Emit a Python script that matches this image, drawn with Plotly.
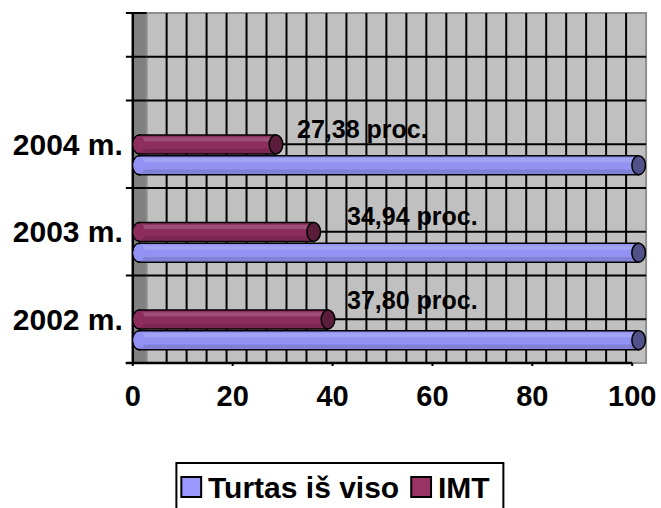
import plotly.graph_objects as go

# ---------------- data ----------------
categories = ["2002 m.", "2003 m.", "2004 m."]
series_names = ["Turtas iš viso", "IMT"]
turtas = [100, 100, 100]
imt = [37.80, 34.94, 27.38]
x_ticks = [0, 20, 40, 60, 80, 100]

# value label placement (axis units) – layout only
label_x = [42.5, 42.5, 32.5]
label_dy = [0.217, 0.18, 0.169]

# ---------------- geometry / style ----------------
W, H = 661, 508
PX = 5.04            # pixels per x unit
X0_PX = 134          # pixel of value 0 on the front axis
CAT_PX = 87.5        # pixels per category
TOP_PX, BOT_PX = 13, 363
DOM_L, DOM_R = 125, 656
PAD = 3
DEPTH_PX = 14        # 3D depth of the floor/wall
SHIFT = 6.5 / PX     # bars sit half way in depth
WALL_X0 = DEPTH_PX / PX
WALL_X1 = WALL_X0 + 100
Y_LO, Y_HI = -0.5, 3.5
BAR_W = 0.217
OFF_T, OFF_I = -0.348, -0.111

FONT = "Liberation Sans, Arial, sans-serif"
BLUE, BLUE_CAP = "#9292F2", "#52528A"
MAROON, MAROON_CAP = "#8C2D5D", "#5A1E3C"
SW_BLUE, SW_MAROON = "#9999FF", "#993366"

xr = [(DOM_L - X0_PX) / PX, (DOM_R - X0_PX) / PX]
xr2 = [xr[0] - SHIFT, xr[1] - SHIFT]
yr = [Y_LO - PAD / CAT_PX, Y_HI + PAD / CAT_PX]
ypos = list(range(len(categories)))

fig = go.Figure()
fig.add_trace(go.Bar(
    y=ypos, x=turtas, orientation="h", name=series_names[0],
    xaxis="x2", yaxis="y", width=BAR_W, offset=OFF_T,
    marker=dict(color=BLUE, line=dict(color="black", width=1.5)),
    showlegend=False, hoverinfo="x+name"))
fig.add_trace(go.Bar(
    y=ypos, x=imt, orientation="h", name=series_names[1],
    xaxis="x2", yaxis="y", width=BAR_W, offset=OFF_I,
    marker=dict(color=MAROON, line=dict(color="black", width=1.5)),
    showlegend=False, hoverinfo="x+name"))

shapes = []
# left side wall (dark strip) and back wall
shapes.append(dict(type="rect", xref="x", yref="y", x0=0, x1=WALL_X0, y0=Y_LO, y1=Y_HI,
                   fillcolor="#808080", line=dict(width=0), layer="below"))
shapes.append(dict(type="rect", xref="x", yref="y", x0=WALL_X0, x1=WALL_X1, y0=Y_LO, y1=Y_HI,
                   fillcolor="#C0C0C0", line=dict(color="#8E8E8E", width=2), layer="below"))
# back-wall gridlines
for k in range(1, 25):
    gx = WALL_X0 + 4 * k
    shapes.append(dict(type="line", xref="x", yref="y", x0=gx, x1=gx, y0=Y_LO, y1=Y_HI,
                       line=dict(color="black", width=2), layer="below"))
for k in range(1, 8):
    gy = Y_LO + 0.5 * k
    shapes.append(dict(type="line", xref="x", yref="y", x0=WALL_X0, x1=WALL_X1, y0=gy, y1=gy,
                       line=dict(color="black", width=2), layer="below"))
# category-axis ticks crossing the side wall
for ty in [-0.5, 0.5, 1.5, 2.5, 3.0, 3.5]:
    shapes.append(dict(type="line", xref="x", yref="y", x0=-7 / PX, x1=WALL_X0, y0=ty, y1=ty,
                       line=dict(color="black", width=2), layer="below"))
# axis lines
shapes.append(dict(type="line", xref="x", yref="y", x0=0, x1=0, y0=Y_LO, y1=Y_HI,
                   line=dict(color="black", width=2.5), layer="below"))
shapes.append(dict(type="line", xref="x", yref="y", x0=-7 / PX, x1=100, y0=Y_LO, y1=Y_LO,
                   line=dict(color="black", width=2.5), layer="below"))
for tx in x_ticks:
    shapes.append(dict(type="line", xref="x", yref="y", x0=tx, x1=tx, y0=Y_LO, y1=Y_LO - 8 / CAT_PX,
                       line=dict(color="black", width=2), layer="below"))

# cylinder shading and ends
for vals, off, body, cap in [(turtas, OFF_T, BLUE, BLUE_CAP), (imt, OFF_I, MAROON, MAROON_CAP)]:
    for i, v in enumerate(vals):
        y0 = ypos[i] + off
        y1 = y0 + BAR_W
        # rounded left end (outline) under the bar
        shapes.append(dict(type="circle", xref="x2", yref="y", xsizemode="pixel", xanchor=0,
                           x0=-6.5, x1=6.5, y0=y0, y1=y1, fillcolor=body,
                           line=dict(color="black", width=1.5), layer="below"))
        # highlight on the upper part and shadow on the lower part of the cylinder
        shapes.append(dict(type="rect", xref="x2", yref="y", x0=0, x1=v,
                           y0=y1 - 0.075, y1=y1 - 0.025, fillcolor="white", opacity=0.16,
                           line=dict(width=0), layer="above"))
        shapes.append(dict(type="rect", xref="x2", yref="y", x0=0, x1=v,
                           y0=y0 + 0.012, y1=y0 + 0.06, fillcolor="black", opacity=0.12,
                           line=dict(width=0), layer="above"))
        # hide the bar's straight left edge
        shapes.append(dict(type="circle", xref="x2", yref="y", xsizemode="pixel", xanchor=0,
                           x0=-5.8, x1=5.8, y0=y0 + 0.012, y1=y1 - 0.012, fillcolor=body,
                           line=dict(width=0), layer="above"))
        # darker right cap
        shapes.append(dict(type="circle", xref="x2", yref="y", xsizemode="pixel", xanchor=v,
                           x0=-6.8, x1=6.8, y0=y0, y1=y1, fillcolor=cap,
                           line=dict(color="black", width=1.5), layer="above"))

# manual legend
def pxx(p):
    return p / W

def pxy(p):
    return 1 - p / H

shapes.append(dict(type="rect", xref="paper", yref="paper", x0=pxx(178), x1=pxx(508),
                   y0=pxy(463), y1=pxy(530), fillcolor="white",
                   line=dict(color="black", width=2)))
legend_items = [(series_names[0], SW_BLUE, 183), (series_names[1], SW_MAROON, 415)]
annotations = []
for name, col, sx in legend_items:
    shapes.append(dict(type="rect", xref="paper", yref="paper", x0=pxx(sx), x1=pxx(sx + 20),
                       y0=pxy(497), y1=pxy(477), fillcolor=col,
                       line=dict(color="black", width=2)))
    annotations.append(dict(xref="paper", yref="paper", x=pxx(sx + 25), y=pxy(487),
                            xanchor="left", yanchor="middle", text=name, showarrow=False,
                            font=dict(family=FONT, size=30, color="black", weight="bold")))

# value labels
for i, v in enumerate(imt):
    annotations.append(dict(xref="x", yref="y", x=label_x[i], y=ypos[i] + label_dy[i],
                            xanchor="left", yanchor="middle", showarrow=False,
                            text=f"{v:.2f}".replace(".", ",") + " proc.",
                            font=dict(family=FONT, size=25, color="black", weight="bold")))

fig.update_layout(
    width=W, height=H, margin=dict(l=0, r=0, t=0, b=0),
    paper_bgcolor="white", plot_bgcolor="white",
    barmode="overlay",
    xaxis=dict(domain=[DOM_L / W, DOM_R / W], range=xr, tickvals=x_ticks,
               ticks="", showgrid=False, zeroline=False, showline=False,
               ticklabelstandoff=10, ticklabeloverflow="allow",
               tickfont=dict(family=FONT, size=29, color="black", weight="bold")),
    xaxis2=dict(domain=[DOM_L / W, DOM_R / W], range=xr2, overlaying="x", anchor="y",
                visible=False),
    yaxis=dict(domain=[1 - (BOT_PX + PAD) / H, 1 - (TOP_PX - PAD) / H], range=yr,
               tickvals=ypos, ticktext=categories, ticks="", showgrid=False,
               zeroline=False, showline=False, ticklabeloverflow="allow",
               tickfont=dict(family=FONT, size=30, color="black", weight="bold")),
    shapes=shapes, annotations=annotations,
)

fig.write_html("out.html")
